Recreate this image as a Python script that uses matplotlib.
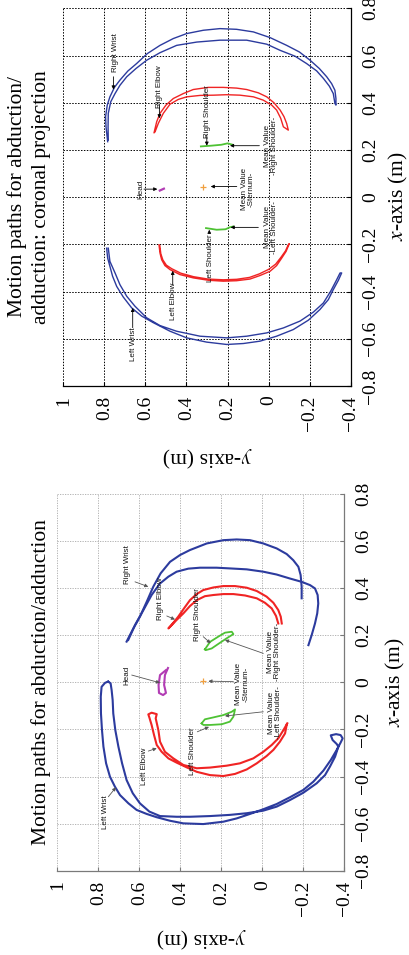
import matplotlib
matplotlib.use('Agg')
import matplotlib.pyplot as plt

plt.rcParams['font.family'] = ['Liberation Serif', 'DejaVu Serif']
plt.rcParams['mathtext.fontset'] = 'stix'

# ---------------- tick values / labels ----------------
Y_TICKS = [1, 0.8, 0.6, 0.4, 0.2, 0, -0.2, -0.4]
Y_TICK_LABELS = ['1', '0.8', '0.6', '0.4', '0.2', '0', '\u22120.2', '\u22120.4']
X_TICKS = [-0.8, -0.6, -0.4, -0.2, 0, 0.2, 0.4, 0.6, 0.8]
X_TICK_LABELS = ['\u22120.8', '\u22120.6', '\u22120.4', '\u22120.2', '0', '0.2', '0.4', '0.6', '0.8']

TITLE_TOP = 'Motion paths for abduction/\nadduction: coronal projection'
TITLE_BOT = 'Motion paths for abduction/adduction'

# ---------------- top panel (coronal projection) data: x, y ----------------
T_RWRIST_OUT_X = [0.235, 0.298, 0.341, 0.390, 0.425, 0.465, 0.496, 0.534, 0.566, 0.608, 0.643, 0.672, 0.693, 0.707,
                  0.714, 0.711, 0.700, 0.676, 0.643, 0.615, 0.580, 0.545, 0.510, 0.481, 0.453, 0.418, 0.390]
T_RWRIST_OUT_Y = [0.784, 0.792, 0.794, 0.786, 0.773, 0.751, 0.724, 0.686, 0.643, 0.591, 0.529, 0.464, 0.399, 0.318,
                  0.237, 0.156, 0.074, -0.007, -0.088, -0.150, -0.202, -0.247, -0.283, -0.307, -0.323, -0.328, -0.328]
T_RWRIST_IN_X = [0.242, 0.298, 0.355, 0.404, 0.439, 0.474, 0.510, 0.545, 0.580, 0.612, 0.643, 0.657, 0.665, 0.665,
                 0.648, 0.622, 0.597, 0.566, 0.535, 0.503, 0.470, 0.439, 0.397]
T_RWRIST_IN_Y = [0.781, 0.782, 0.781, 0.769, 0.748, 0.724, 0.691, 0.646, 0.594, 0.529, 0.448, 0.350, 0.237, 0.107,
                 0.009, -0.056, -0.129, -0.185, -0.234, -0.267, -0.296, -0.315, -0.323]

T_RELBOW_OUT_X = [0.273, 0.320, 0.355, 0.390, 0.418, 0.439, 0.456, 0.465, 0.465, 0.462, 0.456, 0.442, 0.425, 0.400,
                  0.369, 0.341, 0.312, 0.284]
T_RELBOW_OUT_Y = [0.558, 0.545, 0.529, 0.500, 0.464, 0.415, 0.367, 0.294, 0.221, 0.156, 0.107, 0.050, 0.009, -0.026,
                  -0.056, -0.075, -0.088, -0.096]
T_RELBOW_IN_X = [0.277, 0.313, 0.355, 0.394, 0.414, 0.425, 0.431, 0.432, 0.434, 0.432, 0.425, 0.411, 0.390, 0.369,
                 0.334, 0.298]
T_RELBOW_IN_Y = [0.553, 0.537, 0.513, 0.480, 0.440, 0.399, 0.334, 0.269, 0.204, 0.139, 0.074, 0.026, -0.015, -0.039,
                 -0.059, -0.072]

T_LWRIST_OUT_X = [-0.216, -0.258, -0.293, -0.335, -0.378, -0.423, -0.469, -0.504, -0.532, -0.568, -0.596, -0.614,
                  -0.624, -0.620, -0.610, -0.589, -0.561, -0.521, -0.476, -0.434, -0.392, -0.352, -0.321]
T_LWRIST_OUT_Y = [0.789, 0.784, 0.773, 0.760, 0.740, 0.708, 0.667, 0.618, 0.561, 0.480, 0.399, 0.302,
                  0.204, 0.123, 0.042, -0.039, -0.120, -0.194, -0.250, -0.291, -0.315, -0.340, -0.356]
T_LWRIST_IN_X = [-0.216, -0.272, -0.321, -0.371, -0.420, -0.462, -0.511, -0.544, -0.568, -0.589, -0.596, -0.589,
                 -0.575, -0.554, -0.525, -0.487, -0.448, -0.399, -0.349, -0.321]
T_LWRIST_IN_Y = [0.781, 0.773, 0.748, 0.724, 0.691, 0.651, 0.594, 0.529, 0.448, 0.334, 0.204, 0.107,
                 0.009, -0.072, -0.153, -0.218, -0.267, -0.302, -0.332, -0.348]

T_LELBOW_A_X = [-0.202, -0.237, -0.265, -0.290, -0.307, -0.328, -0.342, -0.352, -0.356, -0.354, -0.347, -0.332,
                -0.314, -0.290, -0.258, -0.230, -0.197]
T_LELBOW_A_Y = [0.534, 0.529, 0.521, 0.505, 0.480, 0.432, 0.367, 0.294, 0.221, 0.156, 0.091, 0.042,
                -0.007, -0.039, -0.064, -0.085, -0.101]
T_LELBOW_B_X = [-0.205, -0.240, -0.266, -0.288, -0.303, -0.322, -0.337, -0.347, -0.350, -0.348, -0.340, -0.325,
                -0.306, -0.284, -0.255, -0.228, -0.200]
T_LELBOW_B_Y = [0.530, 0.525, 0.515, 0.498, 0.472, 0.428, 0.365, 0.294, 0.221, 0.156, 0.093, 0.045,
                0.000, -0.034, -0.060, -0.082, -0.097]

T_RSHOULDER_X = [0.215, 0.218, 0.222, 0.228, 0.222]
T_RSHOULDER_Y = [0.330, 0.280, 0.230, 0.200, 0.175]
T_LSHOULDER_X = [-0.131, -0.138, -0.136, -0.128, -0.124]
T_LSHOULDER_Y = [0.305, 0.253, 0.210, 0.190, 0.172]
T_HEAD_X = [0.028, 0.032, 0.036]
T_HEAD_Y = [0.530, 0.520, 0.510]
T_STERNUM = (0.045, 0.321)

# ---------------- bottom panel data: x, y ----------------
B_RWRIST_A_X = [0.173, 0.229, 0.279, 0.342, 0.406, 0.463, 0.512, 0.541, 0.562, 0.590, 0.604, 0.607, 0.604, 0.590,
                0.569, 0.545, 0.519, 0.491, 0.456, 0.406, 0.357]
B_RWRIST_A_Y = [0.662, 0.629, 0.597, 0.564, 0.532, 0.496, 0.450, 0.401, 0.353, 0.271, 0.190, 0.125, 0.060, -0.005,
                -0.070, -0.119, -0.151, -0.176, -0.187, -0.192, -0.192]
B_RWRIST_B_X = [0.180, 0.243, 0.307, 0.371, 0.420, 0.449, 0.470, 0.483, 0.487, 0.487, 0.484, 0.480, 0.470, 0.458,
                0.441, 0.427, 0.413, 0.399, 0.371, 0.335, 0.293, 0.250, 0.201, 0.158]
B_RWRIST_B_Y = [0.654, 0.621, 0.580, 0.540, 0.499, 0.458, 0.418, 0.361, 0.304, 0.223, 0.158, 0.076, -0.005, -0.070,
                -0.135, -0.192, -0.233, -0.257, -0.270, -0.273, -0.268, -0.257, -0.241, -0.225]

B_RELBOW_OUT_X = [0.229, 0.253, 0.279, 0.314, 0.349, 0.375, 0.392, 0.403, 0.409, 0.409, 0.402, 0.388, 0.364, 0.338,
                  0.307, 0.279, 0.250]
B_RELBOW_OUT_Y = [0.458, 0.434, 0.410, 0.382, 0.353, 0.320, 0.288, 0.239, 0.190, 0.133, 0.076, 0.027, -0.021, -0.054,
                  -0.078, -0.090, -0.095]
B_RELBOW_IN_X = [0.236, 0.265, 0.293, 0.324, 0.349, 0.366, 0.371, 0.375, 0.375, 0.369, 0.357, 0.338, 0.314, 0.282,
                 0.250]
B_RELBOW_IN_Y = [0.450, 0.418, 0.385, 0.353, 0.320, 0.280, 0.239, 0.190, 0.141, 0.084, 0.027, -0.013, -0.046, -0.067,
                 -0.078]

B_RSHOULDER_X = [0.140, 0.172, 0.194, 0.211, 0.215, 0.205, 0.187, 0.163, 0.144, 0.137, 0.140]
B_RSHOULDER_Y = [0.280, 0.255, 0.215, 0.182, 0.149, 0.141, 0.174, 0.215, 0.247, 0.275, 0.280]

B_HEAD_X = [0.052, 0.031, -0.011, -0.045, -0.054, -0.045, -0.011, 0.031, 0.061]
B_HEAD_Y = [0.470, 0.499, 0.506, 0.504, 0.484, 0.470, 0.479, 0.475, 0.460]
B_STERNUM = (0.005, 0.290)

B_LSHOULDER_X = [-0.174, -0.157, -0.149, -0.139, -0.125, -0.115, -0.146, -0.167, -0.178, -0.181, -0.181, -0.174]
B_LSHOULDER_Y = [0.296, 0.280, 0.239, 0.190, 0.149, 0.133, 0.141, 0.158, 0.198, 0.255, 0.287, 0.296]

B_LELBOW_OUT_X = [-0.181, -0.217, -0.252, -0.287, -0.313, -0.344, -0.370, -0.389, -0.398, -0.394, -0.380, -0.361,
                  -0.341, -0.323, -0.295, -0.266, -0.224, -0.181, -0.149, -0.136, -0.129, -0.135]
B_LELBOW_OUT_Y = [-0.119, -0.111, -0.086, -0.054, -0.021, 0.027, 0.076, 0.133, 0.190, 0.255, 0.320, 0.369,
                  0.418, 0.458, 0.491, 0.515, 0.528, 0.540, 0.551, 0.556, 0.540, 0.515]
B_LELBOW_IN_X = [-0.153, -0.203, -0.252, -0.295, -0.323, -0.351, -0.365, -0.362, -0.354, -0.344, -0.323, -0.295,
                 -0.266, -0.238, -0.203, -0.174]
B_LELBOW_IN_Y = [0.520, 0.507, 0.499, 0.475, 0.434, 0.385, 0.320, 0.255, 0.174, 0.109, 0.044, -0.005,
                 -0.046, -0.078, -0.103, -0.122]

B_LWRIST_OUT_X = [0.003, -0.002, -0.019, -0.061, -0.132, -0.203, -0.273, -0.344, -0.401, -0.443, -0.479, -0.514,
                  -0.542, -0.559, -0.573, -0.588, -0.599, -0.602, -0.592, -0.578, -0.559, -0.539, -0.517, -0.488,
                  -0.457, -0.422, -0.375, -0.330, -0.287, -0.256, -0.238, -0.224, -0.220, -0.225, -0.245, -0.262]
B_LWRIST_OUT_Y = [0.752, 0.767, 0.784, 0.788, 0.787, 0.782, 0.775, 0.762, 0.743, 0.719, 0.694, 0.653,
                  0.613, 0.564, 0.515, 0.450, 0.385, 0.288, 0.190, 0.125, 0.060, -0.005, -0.070, -0.135,
                  -0.200, -0.249, -0.298, -0.334, -0.363, -0.382, -0.392, -0.382, -0.360, -0.334, -0.343, -0.363]
B_LWRIST_IN_X = [-0.004, -0.033, -0.075, -0.132, -0.203, -0.273, -0.344, -0.415, -0.471, -0.514, -0.549, -0.568,
                 -0.571, -0.571, -0.568, -0.563, -0.556, -0.545, -0.528, -0.500, -0.469, -0.429, -0.394, -0.358,
                 -0.316, -0.273]
B_LWRIST_IN_Y = [0.740, 0.735, 0.730, 0.727, 0.717, 0.702, 0.684, 0.662, 0.632, 0.597, 0.551, 0.499,
                 0.418, 0.353, 0.255, 0.158, 0.076, -0.005, -0.070, -0.135, -0.200, -0.265, -0.306, -0.330,
                 -0.355, -0.371]

# ---------------- annotations: label, text (y, x), arrow tail (y, x), arrow tip (y, x) ----------------
T_NOTES = [
    ('Right Wrist', (0.748, 0.612), (0.756, 0.510), (0.756, 0.456)),
    ('Right Elbow', (0.530, 0.469), (0.532, 0.390), (0.532, 0.334)),
    ('Right Shoulder', (0.296, 0.364), (0.301, 0.263), (0.301, 0.218)),
    ('Mean Value\n-Right Shoulder-', (-0.011, 0.218), (0.045, 0.218), (0.188, 0.218)),
    ('Head', (0.623, 0.033), (0.607, 0.034), (0.542, 0.034)),
    ('Mean Value\n-Sternum-', (0.101, 0.033), (0.155, 0.045), (0.282, 0.045)),
    ('Mean Value\n-Left Shoulder-', (-0.013, -0.128), (0.050, -0.128), (0.185, -0.128)),
    ('Left Shoulder', (0.285, -0.257), (0.289, -0.152), (0.289, -0.138)),
    ('Left Elbow', (0.462, -0.441), (0.467, -0.370), (0.467, -0.312)),
    ('Left Wrist', (0.660, -0.624), (0.662, -0.553), (0.662, -0.469)),
]
B_NOTES = [
    ('Right Wrist', (0.658, 0.502), (0.621, 0.427), (0.556, 0.406)),
    ('Right Elbow', (0.495, 0.357), (0.466, 0.282), (0.426, 0.267)),
    ('Right Shoulder', (0.315, 0.286), (0.288, 0.194), (0.252, 0.166)),
    ('Mean Value\n-Right Shoulder-', (-0.058, 0.130), (-0.005, 0.123), (0.182, 0.180)),
    ('Head', (0.661, 0.028), (0.637, 0.031), (0.499, -0.002)),
    ('Mean Value\n-Sternum-', (0.097, -0.008), (0.141, 0.003), (0.263, 0.005)),
    ('Mean Value\n-Left Shoulder-', (-0.062, -0.128), (-0.005, -0.125), (0.182, -0.143)),
    ('Left Shoulder', (0.340, -0.291), (0.317, -0.210), (0.260, -0.189)),
    ('Left Elbow', (0.576, -0.358), (0.556, -0.292), (0.515, -0.280)),
    ('Left Wrist', (0.763, -0.553), (0.751, -0.486), (0.714, -0.446)),
]

BLUE = '#2c3b9e'
RED = '#f02424'
GREEN = '#4ec234'
MAGENTA = '#b23cb4'
ORANGE = '#f0a040'
NOTE_FONT = ['Liberation Sans Narrow', 'Liberation Sans', 'DejaVu Sans']

fig = plt.figure(figsize=(4.09, 9.55), dpi=100)
ax_top = fig.add_axes([0.1548, 0.5958, 0.7027, 0.3955])
ax_bot = fig.add_axes([0.1401, 0.0883, 0.7017, 0.3944])


def setup(ax, gridcolor, spinecolor, gridlw):
    ax.set_xlim(1, -0.4)
    ax.set_ylim(-0.8, 0.8)
    ax.set_xticks(Y_TICKS)
    ax.set_xticklabels(Y_TICK_LABELS)
    ax.set_yticks(X_TICKS)
    ax.set_yticklabels(X_TICK_LABELS)
    ax.yaxis.tick_right()
    ax.grid(True, linestyle=(0, (1.5, 1.5)), color=gridcolor, linewidth=gridlw)
    ax.set_axisbelow(True)
    for s in ('left', 'top'):
        ax.spines[s].set_visible(False)
    for s in ('right', 'bottom'):
        ax.spines[s].set_color(spinecolor)
        ax.spines[s].set_linewidth(0.9)
    ax.tick_params(axis='x', direction='in', length=3, labelsize=14, labelrotation=90,
                   pad=7, color=spinecolor, labelcolor='black', top=False, bottom=True)
    ax.tick_params(axis='y', direction='in', length=3, labelsize=14, labelrotation=90,
                   pad=8, color=spinecolor, labelcolor='black', left=False, right=True)
    for lbl in ax.get_yticklabels():
        lbl.set_va('center')
    ax.set_facecolor('white')


def notes(ax, items, arrow_color):
    for label, txt, tail, tip in items:
        ax.text(txt[0], txt[1], label, rotation=90, ha='center', va='center',
                multialignment='center', fontsize=5.8, family=NOTE_FONT, color='#111111',
                linespacing=1.05)
        ax.annotate('', xy=tip, xytext=tail,
                    arrowprops=dict(arrowstyle='-|>', color=arrow_color, lw=0.6,
                                    mutation_scale=5, shrinkA=0, shrinkB=0))


def path(xa, ya, xb, yb, reverse_b=True):
    xb2 = xb[::-1] if reverse_b else xb
    yb2 = yb[::-1] if reverse_b else yb
    return list(ya) + list(yb2), list(xa) + list(xb2)


# ---- top panel ----
setup(ax_top, 'black', 'black', 0.7)
lw = 1.0
yy, xx = path(T_RWRIST_OUT_X, T_RWRIST_OUT_Y, T_RWRIST_IN_X, T_RWRIST_IN_Y)
ax_top.plot(yy, xx, color=BLUE, lw=lw)
yy, xx = path(T_LWRIST_OUT_X, T_LWRIST_OUT_Y, T_LWRIST_IN_X, T_LWRIST_IN_Y)
ax_top.plot(yy, xx, color=BLUE, lw=lw)
yy, xx = path(T_RELBOW_OUT_X, T_RELBOW_OUT_Y, T_RELBOW_IN_X, T_RELBOW_IN_Y)
ax_top.plot(yy, xx, color=RED, lw=lw)
yy, xx = path(T_LELBOW_A_X, T_LELBOW_A_Y, T_LELBOW_B_X, T_LELBOW_B_Y)
ax_top.plot(yy, xx, color=RED, lw=lw)
ax_top.plot(T_RSHOULDER_Y, T_RSHOULDER_X, color=GREEN, lw=1.3)
ax_top.plot(T_LSHOULDER_Y, T_LSHOULDER_X, color=GREEN, lw=1.3)
ax_top.plot(T_HEAD_Y, T_HEAD_X, color=MAGENTA, lw=1.6)
ax_top.plot([T_STERNUM[1]], [T_STERNUM[0]], marker='+', color=ORANGE, ms=4, mew=0.9)
notes(ax_top, T_NOTES, 'black')

# ---- bottom panel ----
setup(ax_bot, '#a8a8a8', '#7a7a7a', 0.6)
lw = 1.5
ax_bot.plot(B_RWRIST_A_Y, B_RWRIST_A_X, color=BLUE, lw=lw)
ax_bot.plot(B_RWRIST_B_Y, B_RWRIST_B_X, color=BLUE, lw=lw)
yy, xx = path(B_RELBOW_IN_X[::-1], B_RELBOW_IN_Y[::-1], B_RELBOW_OUT_X, B_RELBOW_OUT_Y, reverse_b=False)
ax_bot.plot(yy, xx, color=RED, lw=lw)
yy, xx = path(B_LELBOW_OUT_X, B_LELBOW_OUT_Y, B_LELBOW_IN_X, B_LELBOW_IN_Y, reverse_b=False)
ax_bot.plot(yy, xx, color=RED, lw=lw)
yy, xx = path(B_LWRIST_OUT_X, B_LWRIST_OUT_Y, B_LWRIST_IN_X, B_LWRIST_IN_Y, reverse_b=True)
ax_bot.plot(yy + [yy[0]], xx + [xx[0]], color=BLUE, lw=lw)
ax_bot.plot(B_RSHOULDER_Y, B_RSHOULDER_X, color=GREEN, lw=1.3)
ax_bot.plot(B_LSHOULDER_Y, B_LSHOULDER_X, color=GREEN, lw=1.3)
ax_bot.plot(B_HEAD_Y, B_HEAD_X, color=MAGENTA, lw=1.5)
ax_bot.plot([B_STERNUM[1]], [B_STERNUM[0]], marker='+', color=ORANGE, ms=4, mew=0.9)
notes(ax_bot, B_NOTES, '#555555')

# ---- titles and axis labels ----
fig.text(0.071, 0.794, TITLE_TOP, rotation=90, ha='center', va='center',
         multialignment='center', fontsize=15.5, linespacing=1.3)
fig.text(0.1015, 0.2859, TITLE_BOT, rotation=90, ha='center', va='center', fontsize=15.5)

fig.text(0.5061, 0.5218, '$y$-axis (m)', rotation=180, ha='center', va='center', fontsize=15.5)
fig.text(0.4910, 0.0178, '$y$-axis (m)', rotation=180, ha='center', va='center', fontsize=15.5)
fig.text(0.9745, 0.794, '$x$-axis (m)', rotation=90, ha='center', va='center', fontsize=15.5)
fig.text(0.9670, 0.2859, '$x$-axis (m)', rotation=90, ha='center', va='center', fontsize=15.5)

fig.savefig('out.png', dpi=100, facecolor='white')
